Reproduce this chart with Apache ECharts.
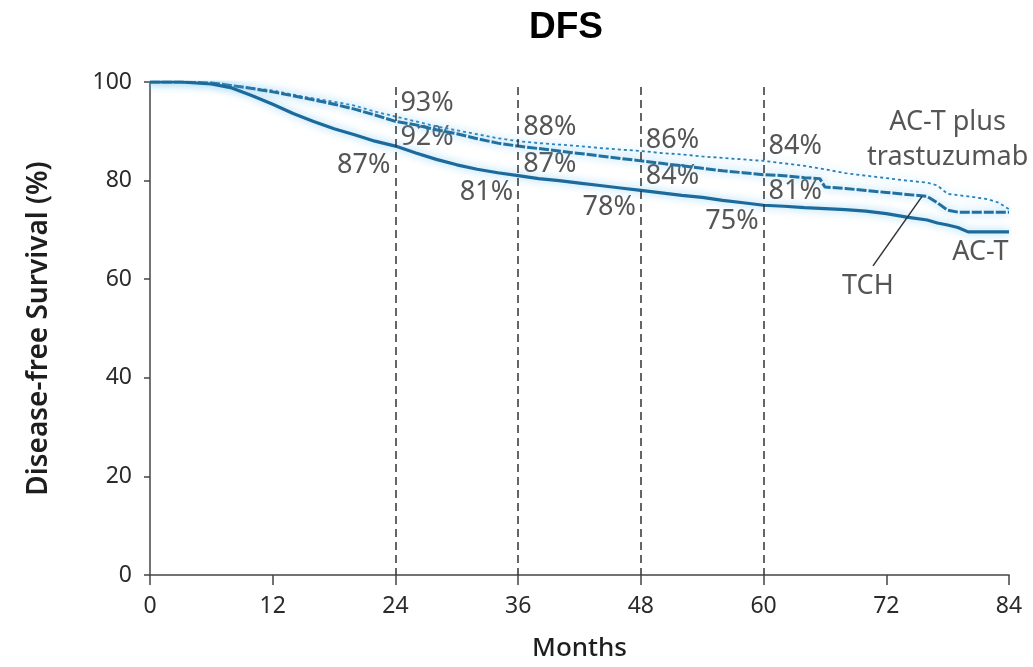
<!DOCTYPE html>
<html>
<head>
<meta charset="utf-8">
<script src="https://cdn.jsdelivr.net/npm/echarts@6/dist/echarts.min.js"></script>
<style>
html,body{margin:0;padding:0;background:#fff;}
#chart{width:1033px;height:667px;}
</style>
</head>
<body>
<div id="chart"></div>
<script>
// ---- data ----
const xTicks = [0, 12, 24, 36, 48, 60, 72, 84];
const yTicks = [0, 20, 40, 60, 80, 100];
const landmarkMonths = [24, 36, 48, 60];

const actMonths = [0,3,6,8,10,12,14,16,18,20,22,24,26,28,30,32,34,36,38,40,42,44,46,48,50,52,54,56,58,60,62,64,66,68,70,72,74,76,77,78,79,80,84];
const actSurv   = [100,100,99.6,98.8,97.2,95.5,93.6,92,90.5,89.3,88,87,85.6,84.3,83.2,82.3,81.6,81,80.4,80,79.5,79,78.5,78,77.5,77,76.6,76,75.5,75,74.8,74.5,74.3,74.1,73.8,73.3,72.6,72,71.4,71,70.5,69.6,69.6];

const tchMonths = [0,3,6,9,12,15,18,20,22,24,26,28,30,32,34,36,38,40,42,44,46,48,50,52,54,56,58,60,62,64,65.5,66,68,70,72,74,76,77,78,79,84];
const tchSurv   = [100,100,99.8,99,98,96.8,95.5,94.5,93.3,92,91.3,90.3,89.5,88.5,87.6,87,86.5,86,85.5,85,84.5,84,83.5,83,82.5,82,81.6,81.2,81,80.6,80.4,78.7,78.4,78,77.6,77.2,76.8,75.5,74,73.6,73.6];

const trMonths = [0,3,6,9,12,15,18,20,22,24,26,28,30,32,34,36,38,40,42,44,46,48,50,52,54,56,58,60,62,64,66,68,70,72,74,76,77,78,80,82,83,84];
const trSurv   = [100,100,99.8,99,98.3,97,96,95.2,94,93,92,91,90.2,89.4,88.6,88,87.6,87.3,87,86.6,86.3,86,85.6,85.3,84.9,84.6,84.3,84,83.5,83,82.3,81.5,81,80.5,80,79.6,79,77.3,76.8,76.2,75.5,74.2];

const annoMonth = [24,24,24,36,36,36,48,48,48,60,60,60];
const annoValue = [95.6,88.7,83.1,90.9,83.3,77.6,88.1,80.8,74.6,86.9,77.8,71.8];
const annoText  = ['93%','92%','87%','88%','87%','81%','86%','84%','78%','84%','81%','75%'];
const annoSide  = ['right','right','left','right','right','left','right','right','left','right','right','left'];

const seriesNames = ['AC-T plus\ntrastuzumab', 'AC-T', 'TCH'];
const nameMonth = [78, 81.2, 70.2];
const nameValue = [88.2, 65.5, 58.5];
const leaderMonth = [70.7, 75.5];
const leaderValue = [62.7, 76.8];

// ---- build ----
const zip = (a, b) => a.map((v, i) => [v, b[i]]);
const FONT = '"Noto Sans", sans-serif';
const TXT = '#2b2b2b';
const glow = {shadowColor: 'rgba(110,195,240,0.8)', shadowBlur: 8};

const chart = echarts.init(document.getElementById('chart'), null, {renderer: 'canvas'});
chart.setOption({
  animation: false,
  backgroundColor: '#fff',
  title: {
    text: 'DFS', left: 524, top: 4,
    textStyle: {fontFamily: '"Liberation Sans", Arial, sans-serif', fontWeight: 'bold', fontSize: 37, color: '#000'}
  },
  grid: {left: 150, right: 24, top: 82, bottom: 89},
  xAxis: {
    type: 'value', min: 0, max: 84, interval: 12,
    name: 'Months', nameLocation: 'middle', nameGap: 61,
    nameTextStyle: {fontFamily: FONT, fontSize: 26, color: '#1e1e1e', fontWeight: 500},
    axisLine: {lineStyle: {color: '#444', width: 1.5}},
    axisTick: {length: 10, lineStyle: {color: '#444', width: 1.5}},
    axisLabel: {margin: 20, fontFamily: FONT, fontSize: 23, color: TXT,
      formatter: v => xTicks.includes(v) ? String(v) : ''},
    splitLine: {show: false}
  },
  yAxis: {
    type: 'value', min: 0, max: 100, interval: 20,
    name: 'Disease-free Survival (%)', nameLocation: 'middle', nameGap: 97,
    nameTextStyle: {fontFamily: FONT, fontSize: 28, color: '#1e1e1e', fontWeight: 600},
    axisLine: {show: true, lineStyle: {color: '#444', width: 1.5}},
    axisTick: {show: true, length: 6, lineStyle: {color: '#444', width: 1.5}},
    axisLabel: {margin: 18, fontFamily: FONT, fontSize: 23, color: TXT,
      formatter: v => yTicks.includes(v) ? String(v) : ''},
    splitLine: {show: false}
  },
  series: [
    {
      name: 'landmarks', type: 'line', data: [], silent: true,
      markLine: {
        silent: true, symbol: 'none', label: {show: false},
        lineStyle: {color: '#333', width: 1.5, type: [8, 5]},
        data: landmarkMonths.map(m => [{coord: [m, 99]}, {coord: [m, 0]}])
      }
    },
    {
      name: 'AC-T plus trastuzumab', type: 'line', data: zip(trMonths, trSurv),
      symbol: 'none', smooth: false,
      lineStyle: Object.assign({color: '#2b7fb6', width: 1.8, type: [3, 3]}, glow)
    },
    {
      name: 'TCH', type: 'line', data: zip(tchMonths, tchSurv),
      symbol: 'none',
      lineStyle: Object.assign({color: '#22709f', width: 3, type: [10, 2]}, glow)
    },
    {
      name: 'AC-T', type: 'line', data: zip(actMonths, actSurv),
      symbol: 'none',
      lineStyle: Object.assign({color: '#1c6a9c', width: 3.2}, glow)
    },
    {
      name: 'leader', type: 'line', data: zip(leaderMonth, leaderValue),
      symbol: 'none', silent: true,
      lineStyle: {color: '#333', width: 1.5}
    },
    {
      name: 'pct', type: 'scatter', symbolSize: 0, silent: true,
      data: annoMonth.map((m, i) => ({
        value: [m, annoValue[i]],
        label: {show: true, position: annoSide[i], distance: 5, formatter: annoText[i]}
      })),
      label: {fontFamily: FONT, fontSize: 27, color: TXT}
    },
    {
      name: 'names', type: 'scatter', symbolSize: 0, silent: true,
      data: nameMonth.map((m, i) => ({
        value: [m, nameValue[i]],
        label: {show: true, position: 'inside', formatter: seriesNames[i]}
      })),
      label: {fontFamily: FONT, fontSize: 27, color: TXT, lineHeight: 35, align: 'center'}
    }
  ]
});
</script>
</body>
</html>
